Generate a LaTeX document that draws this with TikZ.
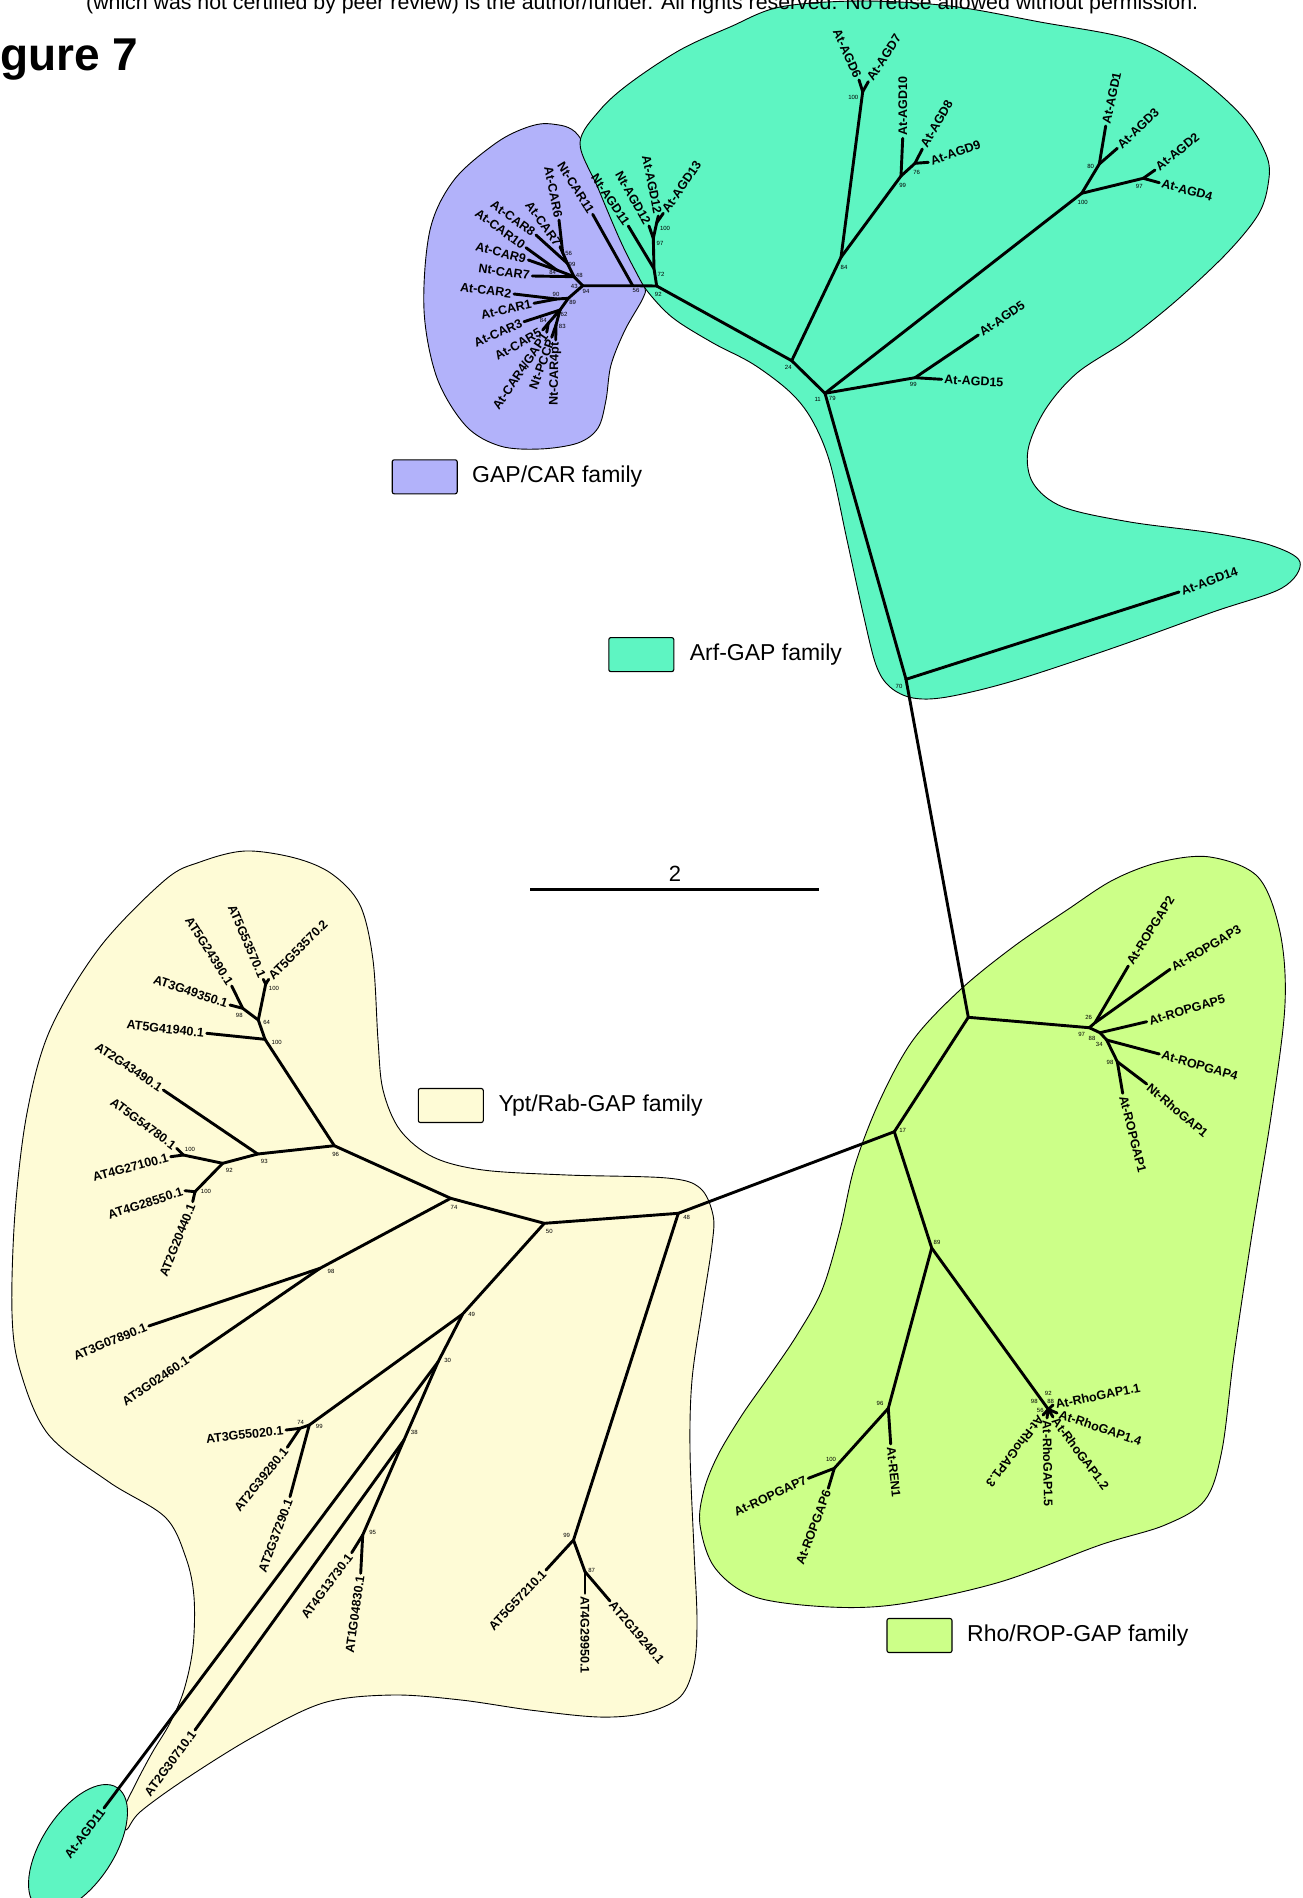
\documentclass[tikz,border=0pt]{standalone}
\usepackage{fontspec}
\setmainfont{Liberation Sans}
\definecolor{carc}{RGB}{178,178,250}
\definecolor{arfc}{RGB}{94,245,194}
\definecolor{ropc}{RGB}{204,255,136}
\definecolor{yptc}{RGB}{254,251,214}
\tikzset{
 br/.style={line width=2.9pt, line cap=round, line join=round},
 lab/.style={font=\fontsize{12.5}{14}\selectfont\bfseries, inner sep=1.3pt},
 bs/.style={font=\fontsize{6}{7}\selectfont, inner sep=0pt},
 blob/.style={draw=black, line width=0.9pt},
 legbox/.style={draw=black, line width=1.1pt, rounded corners=2pt, minimum width=65pt, minimum height=34pt, inner sep=0pt},
 legtxt/.style={font=\fontsize{23}{26}\selectfont, anchor=west, inner sep=0pt},
}
\newcommand\lfE[4]{\draw[br] (#1) -- (#2) node[lab,anchor=east,rotate=#3] (L#2) {#4};}
\newcommand\lfW[4]{\draw[br] (#1) -- (#2) node[lab,anchor=west,rotate=#3] (L#2) {#4};}
\newcommand\brn[2]{\draw[br] (#1) -- (#2);}
\newcount\bsc
\newcommand\bsl[2]{\global\advance\bsc by 1\relax\node[bs] (bs\the\bsc) at (#1) {#2};}
\begin{document}
\begin{tikzpicture}[x=1pt,y=-1pt]
\useasboundingbox (0,0) rectangle (1302,1898);
\clip (0,0) rectangle (1302,1898);
% ---------- blobs ----------
\draw[blob, fill=yptc] plot[smooth cycle, tension=0.55] coordinates {
(200,862) (245,851) (295,858) (332,874) (360,905) (373,960) (378,1040) (383,1090) (400,1130) (433,1157) (483,1170) (567,1175) (667,1178) (700,1188) (713,1215) (712,1245) (702,1310) (692,1380) (690,1450) (694,1550) (697,1620) (694,1665) (680,1697) (645,1713) (599,1717) (530,1710) (461,1700) (392,1695) (323,1703) (253,1737) (184,1780) (140,1812) (126,1830) (123,1812) (134,1787) (152,1753) (170,1723) (184,1690) (193,1647) (194,1597) (186,1558) (165,1517) (109,1482) (48,1434) (20,1370) (12,1313) (15,1213) (27,1113) (50,1030) (100,947) (165,880)};
\draw[blob, fill=ropc] plot[smooth cycle, tension=0.55] coordinates {
(1113,880) (1160,862) (1210,857) (1258,877) (1280,932) (1285,1004) (1272,1110) (1252,1234) (1234,1355) (1222,1450) (1205,1500) (1165,1525) (1100,1545) (1000,1582) (900,1604) (830,1607) (755,1597) (715,1568) (700,1525) (704,1490) (718,1455) (742,1415) (770,1375) (797,1335) (822,1290) (840,1230) (855,1165) (880,1100) (913,1040) (960,990) (1013,947) (1067,910)};
\draw[blob, fill=carc] plot[smooth cycle, tension=0.55] coordinates {
(552,124) (578,135) (603,188) (628,248) (644,285) (643,298) (625,330) (611,365) (606,400) (598,428) (578,443) (540,449) (500,446) (466,426) (437,378) (424,310) (430,230) (454,180) (496,143) (528,127)};
\draw[blob, fill=arfc] plot[smooth cycle, tension=0.55] coordinates {
(580,143) (600,110) (630,83) (680,50) (730,27) (780,7) (860,1) (950,6) (1040,22) (1133,40) (1193,73) (1243,117) (1267,157) (1268,185) (1258,215) (1227,253) (1177,300) (1127,340) (1077,373) (1045,410) (1028,450) (1033,483) (1063,507) (1130,522) (1213,533) (1270,545) (1300,562) (1282,588) (1213,612) (1113,648) (1013,681) (947,697) (913,698) (890,687) (876,665) (863,613) (847,540) (830,463) (812,420) (790,392) (753,364) (713,343) (673,318) (648,292) (636,272) (620,240) (598,188)};
\coordinate (ell) at (78,1848);
\draw[blob, fill=arfc, rotate around={57:(ell)}] (ell) ellipse [x radius=72pt, y radius=36pt];
% ---------- header ----------
\node[anchor=base west, font=\fontsize{21.3}{24}\selectfont, inner sep=0pt] (hdr) at (86,9) {(which was not certified by peer review) is the author/funder. All rights reserved. No reuse allowed without permission.};
\node[anchor=base west, font=\fontsize{46}{50}\selectfont\bfseries, inner sep=0pt] (fig) at (0,70) {gure 7};
% ---------- legends ----------
\node[legbox, fill=carc] (kcar) at (424.7,476.8) {};
\node[legtxt] (tcar) at (472,477) {GAP/CAR family};
\node[legbox, fill=arfc] (karf) at (641.3,654.6) {};
\node[legtxt] (tarf) at (689.7,654.6) {Arf-GAP family};
\node[legbox, fill=yptc] (kypt) at (450.8,1105.5) {};
\node[legtxt] (typt) at (498.3,1105.5) {Ypt/Rab-GAP family};
\node[legbox, fill=ropc] (krop) at (919.5,1635.5) {};
\node[legtxt] (trop) at (967,1636) {Rho/ROP-GAP family};
% scale bar
\coordinate (sb1) at (530,889.4);
\coordinate (sb2) at (819,889.4);
\draw[line width=2.6pt] (sb1) -- (sb2);
\node[font=\fontsize{22}{24}\selectfont, inner sep=0pt] (sbl) at (675,874) {2};
% ---------- GAP/CAR coordinates ----------
\coordinate (c94) at (582.7,285.7);
\coordinate (cM56) at (632.7,285.7);
\coordinate (cC48) at (574,276.7);
\coordinate (cC84) at (556.7,270);
\coordinate (cC99) at (567.3,263.3);
\coordinate (cC56) at (562.7,252.7);
\coordinate (cC89) at (568.3,298.3);
\coordinate (cC90) at (556.7,299);
\coordinate (cC62) at (560,310);
\coordinate (cC84b) at (548.3,323.3);
\coordinate (cC83) at (556,325);
\coordinate (tNtCAR11) at (592.7,214.3);
\coordinate (tAtCAR6) at (559,220);
\coordinate (tAtCAR7) at (560,246.7);
\coordinate (tAtCAR8) at (536,235);
\coordinate (tAtCAR10) at (526,247.7);
\coordinate (tAtCAR9) at (528.3,260);
\coordinate (tNtCAR7) at (532.3,276);
\coordinate (tAtCAR2) at (514,294);
\coordinate (tAtCAR1) at (534,303.3);
\coordinate (tAtCAR3) at (524,321.7);
\coordinate (tAtCAR5) at (542.7,330);
\coordinate (tAtCAR4) at (546.7,332.3);
\coordinate (tNtPCCP) at (551.7,337.3);
\coordinate (tNtCAR4pt) at (555.7,340);
% ---------- Arf coordinates ----------
\coordinate (a92) at (656.7,286);
\coordinate (a72) at (654,268.7);
\coordinate (a97) at (653.3,238.3);
\coordinate (a100) at (656.7,222.7);
\coordinate (a24) at (791.7,360.7);
\coordinate (a11) at (825,393.3);
\coordinate (a84) at (841,257.3);
\coordinate (a100b) at (862.7,91.7);
\coordinate (a99) at (901,176);
\coordinate (a76) at (915,163.3);
\coordinate (a99b) at (915,377.7);
\coordinate (a100c) at (1081.7,193.3);
\coordinate (a80) at (1099.3,164);
\coordinate (a97b) at (1143.3,178.3);
\coordinate (a70) at (906,679.3);
\coordinate (tNtAGD11) at (628.3,226);
\coordinate (tNtAGD12) at (649,226);
\coordinate (tAtAGD12) at (658.3,216);
\coordinate (tAtAGD13) at (663.3,213.3);
\coordinate (tAtAGD6) at (859,80);
\coordinate (tAtAGD7) at (868.3,81.7);
\coordinate (tAtAGD10) at (902.7,138.3);
\coordinate (tAtAGD8) at (922.3,149);
\coordinate (tAtAGD9) at (928.3,162.3);
\coordinate (tAtAGD15) at (941.7,379.3);
\coordinate (tAtAGD5) at (978.3,335);
\coordinate (tAtAGD1) at (1105.7,126);
\coordinate (tAtAGD3) at (1117.3,148.3);
\coordinate (tAtAGD2) at (1155,170);
\coordinate (tAtAGD4) at (1159.3,182.7);
\coordinate (tAtAGD14) at (1179,592);
% ---------- Rho coordinates ----------
\coordinate (r0) at (968.3,1017.3);
\coordinate (r97) at (1089.3,1027.7);
\coordinate (r26) at (1095,1022.7);
\coordinate (r88) at (1100,1032.7);
\coordinate (r34) at (1106.7,1040);
\coordinate (r98) at (1117.3,1061.7);
\coordinate (r17) at (894.3,1131.7);
\coordinate (r89) at (931.7,1248);
\coordinate (r96) at (888.3,1408.3);
\coordinate (r100) at (834.3,1468.3);
\coordinate (rh) at (1048.3,1409.3);
\coordinate (tROP2) at (1128.3,966);
\coordinate (tROP3) at (1170,969.3);
\coordinate (tROP5) at (1146.7,1021.7);
\coordinate (tROP4) at (1159.3,1054);
\coordinate (tNtRho1) at (1146.7,1084);
\coordinate (tROP1) at (1122.7,1093.3);
\coordinate (tREN1) at (890.7,1444);
\coordinate (tROP7) at (808.3,1478.3);
\coordinate (tROP6) at (828.3,1488.3);
\coordinate (tRho11) at (1053,1405);
\coordinate (tRho14) at (1057,1413);
\coordinate (tRho12) at (1053,1417);
\coordinate (tRho15) at (1047,1418);
\coordinate (tRho13) at (1043,1415);
% ---------- Ypt coordinates ----------
\coordinate (y48) at (678.3,1213.3);
\coordinate (y50) at (544.3,1223.3);
\coordinate (y74) at (450.7,1198.3);
\coordinate (y96) at (334.3,1145.7);
\coordinate (y100a) at (265,1039.3);
\coordinate (y64) at (258.3,1020);
\coordinate (y100b) at (265.7,984);
\coordinate (y98a) at (242.7,1008.3);
\coordinate (y93) at (257.7,1154);
\coordinate (y92) at (222.7,1163.3);
\coordinate (y100c) at (183.3,1155);
\coordinate (y100d) at (195,1191.7);
\coordinate (y98b) at (320,1268.3);
\coordinate (y49) at (462.7,1314);
\coordinate (y99) at (309.3,1425);
\coordinate (y74b) at (300,1428.3);
\coordinate (y30) at (438,1362);
\coordinate (y38) at (404,1440);
\coordinate (y95) at (362.7,1535);
\coordinate (y99b) at (573.5,1540);
\coordinate (y87) at (585,1571.7);
\coordinate (t53570a) at (263.3,979.3);
\coordinate (t53570b) at (268.7,979.3);
\coordinate (t24390) at (231.7,986);
\coordinate (t49350) at (230,1005);
\coordinate (t41940) at (206.7,1033.3);
\coordinate (t43490) at (163.3,1090);
\coordinate (t54780) at (176.7,1148.3);
\coordinate (t27100) at (170.7,1156.7);
\coordinate (t28550) at (185,1190.7);
\coordinate (t20440) at (192.7,1201.7);
\coordinate (t07890) at (148.8,1326);
\coordinate (t02460) at (190,1357.6);
\coordinate (t55020) at (286,1430);
\coordinate (t39280) at (287.3,1447.3);
\coordinate (t37290) at (290,1496.7);
\coordinate (t13730) at (351.7,1552.7);
\coordinate (t04830) at (360.7,1573.3);
\coordinate (t30710) at (195,1730);
\coordinate (tAGD11) at (104,1808);
\coordinate (t57210) at (546,1570);
\coordinate (t29950) at (585,1593.3);
\coordinate (t19240) at (610,1601);
% ---------- GAP/CAR tree ----------
\draw[br] (c94) -- (cM56) -- (a92);
\lfE{cM56}{tNtCAR11}{-57.7}{Nt-CAR11}
\brn{c94}{cC48} \brn{cC48}{cC99} \brn{cC99}{cC56}
\lfE{cC56}{tAtCAR6}{-78.7}{At-CAR6}
\lfE{cC56}{tAtCAR7}{-54}{At-CAR7}
\lfE{cC99}{tAtCAR8}{-35.8}{At-CAR8}
\brn{cC48}{cC84}
\lfE{cC84}{tAtCAR10}{-36}{At-CAR10}
\lfE{cC84}{tAtCAR9}{-14.7}{At-CAR9}
\lfE{cC48}{tNtCAR7}{-8}{Nt-CAR7}
\brn{c94}{cC89} \brn{cC89}{cC90}
\lfE{cC90}{tAtCAR2}{-7.4}{At-CAR2}
\lfE{cC90}{tAtCAR1}{12.4}{At-CAR1}
\brn{cC89}{cC62}
\lfE{cC62}{tAtCAR3}{24}{At-CAR3}
\brn{cC62}{cC84b}
\lfE{cC84b}{tAtCAR5}{30}{At-CAR5}
\lfE{cC84b}{tAtCAR4}{56}{At-CAR4/GAP1}
\brn{cC62}{cC83}
\lfE{cC83}{tNtPCCP}{70}{Nt-PCCP}
\lfE{cC83}{tNtCAR4pt}{89}{Nt-CAR4pt}
% ---------- Arf tree ----------
\draw[br] (a92) -- (a72) -- (a97) -- (a100);
\lfE{a72}{tNtAGD11}{-56}{Nt-AGD11}
\lfE{a97}{tNtAGD12}{-60.6}{Nt-AGD12}
\lfE{a100}{tAtAGD12}{-78.7}{At-AGD12}
\lfW{a100}{tAtAGD13}{55.4}{At-AGD13}
\draw[br] (a92) -- (a24) -- (a11);
\brn{a24}{a84} \brn{a84}{a100b}
\lfE{a100b}{tAtAGD6}{-65.8}{At-AGD6}
\lfW{a100b}{tAtAGD7}{57}{At-AGD7}
\brn{a84}{a99}
\lfW{a99}{tAtAGD10}{90}{At-AGD10}
\brn{a99}{a76}
\lfW{a76}{tAtAGD8}{60}{At-AGD8}
\lfW{a76}{tAtAGD9}{19}{At-AGD9}
\brn{a11}{a99b}
\lfW{a99b}{tAtAGD15}{-3}{At-AGD15}
\lfW{a99b}{tAtAGD5}{34.7}{At-AGD5}
\brn{a11}{a100c} \brn{a100c}{a80}
\lfW{a80}{tAtAGD1}{78}{At-AGD1}
\lfW{a80}{tAtAGD3}{43.7}{At-AGD3}
\brn{a100c}{a97b}
\lfW{a97b}{tAtAGD2}{39}{At-AGD2}
\lfW{a97b}{tAtAGD4}{-15}{At-AGD4}
\brn{a11}{a70}
\lfW{a70}{tAtAGD14}{19.8}{At-AGD14}
\brn{a70}{r0}
% ---------- Rho tree ----------
\brn{r0}{r97} \brn{r97}{r26}
\lfW{r26}{tROP2}{58}{At-ROPGAP2}
\lfW{r26}{tROP3}{30.5}{At-ROPGAP3}
\brn{r97}{r88}
\lfW{r88}{tROP5}{16.3}{At-ROPGAP5}
\brn{r88}{r34}
\lfW{r34}{tROP4}{-16}{At-ROPGAP4}
\brn{r34}{r98}
\lfW{r98}{tNtRho1}{-40.6}{Nt-RhoGAP1}
\lfW{r98}{tROP1}{-76}{At-ROPGAP1}
\brn{r0}{r17} \brn{r17}{y48} \brn{r17}{r89}
\brn{r89}{r96}
\lfW{r96}{tREN1}{-84}{At-REN1}
\brn{r96}{r100}
\lfE{r100}{tROP7}{25}{At-ROPGAP7}
\lfE{r100}{tROP6}{69.3}{At-ROPGAP6}
\brn{r89}{rh}
\lfW{rh}{tRho11}{11.5}{At-RhoGAP1.1}
\lfW{rh}{tRho14}{-18.8}{At-RhoGAP1.4}
\lfW{rh}{tRho12}{-53}{At-RhoGAP1.2}
\lfW{rh}{tRho15}{-89}{At-RhoGAP1.5}
\lfW{rh}{tRho13}{-127.6}{At-RhoGAP1.3}
% ---------- Ypt tree ----------
\brn{y48}{y50} \brn{y50}{y74} \brn{y74}{y96}
\brn{y96}{y100a}
\lfE{y100a}{t41940}{-6.2}{AT5G41940.1}
\brn{y100a}{y64} \brn{y64}{y98a}
\lfE{y98a}{t24390}{-57.3}{AT5G24390.1}
\lfE{y98a}{t49350}{-18.8}{AT3G49350.1}
\brn{y64}{y100b}
\lfE{y100b}{t53570a}{-66.8}{AT5G53570.1}
\lfW{y100b}{t53570b}{45}{AT5G53570.2}
\brn{y96}{y93}
\lfE{y93}{t43490}{-33.7}{AT2G43490.1}
\brn{y93}{y92} \brn{y92}{y100c}
\lfE{y100c}{t54780}{-36.4}{AT5G54780.1}
\lfE{y100c}{t27100}{15}{AT4G27100.1}
\brn{y92}{y100d}
\lfE{y100d}{t28550}{17.6}{AT4G28550.1}
\lfE{y100d}{t20440}{68.4}{AT2G20440.1}
\brn{y74}{y98b}
\lfE{y98b}{t07890}{22}{AT3G07890.1}
\lfE{y98b}{t02460}{34}{AT3G02460.1}
\brn{y50}{y49} \brn{y49}{y99}
\lfE{y99}{t37290}{69.6}{AT2G37290.1}
\brn{y99}{y74b}
\lfE{y74b}{t55020}{6.3}{AT3G55020.1}
\lfE{y74b}{t39280}{51}{AT2G39280.1}
\brn{y49}{y30}
\lfE{y30}{tAGD11}{53}{At-AGD11}
\brn{y30}{y38}
\lfE{y38}{t30710}{53.5}{AT2G30710.1}
\brn{y38}{y95}
\lfE{y95}{t13730}{53.6}{AT4G13730.1}
\lfE{y95}{t04830}{82}{AT1G04830.1}
\brn{y48}{y99b}
\lfE{y99b}{t57210}{46.7}{AT5G57210.1}
\brn{y99b}{y87}
\lfW{y87}{t29950}{-90}{AT4G29950.1}
\lfW{y87}{t19240}{-49.8}{AT2G19240.1}
% ---------- bootstrap values ----------
\bsl{568.7,253.7}{56} \bsl{572,264}{99} \bsl{552.7,272.7}{84} \bsl{579.3,275.7}{48}
\bsl{574.3,286.7}{43} \bsl{586,291.7}{94} \bsl{636,290.7}{56} \bsl{556,294.7}{90}
\bsl{572.7,302.3}{89} \bsl{556,314}{74} \bsl{564,314}{62} \bsl{543.3,320}{84} \bsl{562.3,326.7}{83}
\bsl{658.3,294.7}{92} \bsl{661,274.7}{72} \bsl{660,243.3}{97} \bsl{665,228.7}{100}
\bsl{788.3,367.7}{24} \bsl{817.7,399.3}{11} \bsl{832.3,398.7}{79} \bsl{844,267.3}{84}
\bsl{853.3,97.7}{100} \bsl{902.7,185.3}{99} \bsl{916.7,172.7}{76} \bsl{913.3,384.3}{99}
\bsl{1082.7,202.3}{100} \bsl{1090.7,166}{80} \bsl{1139.3,186.7}{97} \bsl{899,686}{70}
\bsl{1088.7,1017.3}{26} \bsl{1081.7,1034.3}{97} \bsl{1092,1038.3}{88} \bsl{1099.3,1044}{34}
\bsl{1110,1062.7}{98} \bsl{902.7,1130.7}{17} \bsl{937,1242}{89} \bsl{880,1403.3}{96}
\bsl{831,1459.3}{100} \bsl{1048.3,1393.3}{92} \bsl{1034.3,1401.7}{98} \bsl{1050.7,1401}{88}
\bsl{1040.3,1410}{56}
\bsl{274,988.3}{100} \bsl{239.3,1015.7}{98} \bsl{266.7,1022.7}{64} \bsl{276.7,1042.3}{100}
\bsl{335.7,1154}{96} \bsl{264.3,1161}{93} \bsl{229.3,1170}{92} \bsl{190,1149.3}{100}
\bsl{206,1191.7}{100} \bsl{331,1271.7}{98} \bsl{454,1207.3}{74} \bsl{549.3,1231}{50}
\bsl{686.7,1217.3}{48} \bsl{471.7,1314}{49} \bsl{447.7,1360}{30} \bsl{300.7,1422.3}{74}
\bsl{319.3,1426.7}{99} \bsl{414.3,1432.7}{38} \bsl{372.7,1532.7}{95} \bsl{566.7,1535}{99}
\bsl{591.7,1570}{87}
\end{tikzpicture}
\end{document}
